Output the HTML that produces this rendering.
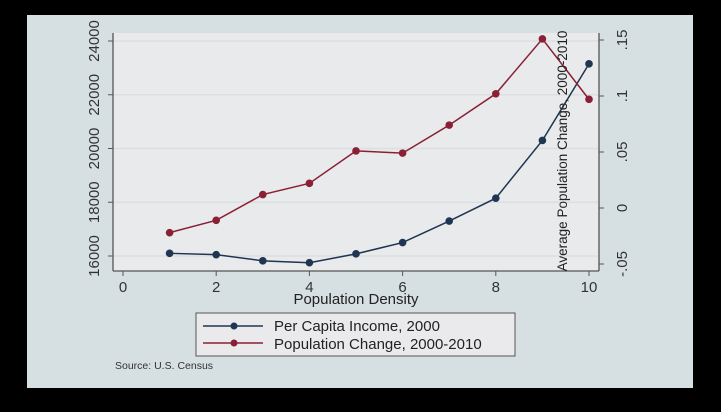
<!DOCTYPE html>
<html><head><meta charset="utf-8"><style>
body{margin:0;background:#000;width:721px;height:412px;overflow:hidden}
svg{display:block;font-family:"Liberation Sans",sans-serif}
</style></head><body>
<svg width="721" height="412">
<rect x="27" y="15" width="666" height="373" fill="#d6dfe1"/>
<rect x="113" y="33" width="486" height="238" fill="#e9eaeb"/>
<g id="grid"></g>
<g id="axes" stroke="#555" stroke-width="1.3" fill="none">
<line x1="113" y1="33" x2="113" y2="271"/><line x1="113" y1="271" x2="599" y2="271"/><line x1="599" y1="33" x2="599" y2="271"/>
</g>
<g id="ticks"></g>
<g id="series"></g>
<text x="356" y="304" font-size="15" text-anchor="middle" fill="#222">Population Density</text>
<text transform="translate(567,151) rotate(-90)" font-size="13.5" text-anchor="middle" fill="#222">Average Population Change, 2000-2010</text>
<g>
<rect x="196" y="313" width="319" height="43" fill="#eaeaec" stroke="#555" stroke-width="1"/>
<line x1="203" y1="326" x2="263" y2="326" stroke="#1f3552" stroke-width="1.5"/><circle cx="234" cy="326" r="3.5" fill="#1f3552"/>
<text x="274" y="331" font-size="15" fill="#222">Per Capita Income, 2000</text>
<line x1="203" y1="343" x2="263" y2="343" stroke="#8a2035" stroke-width="1.5"/><circle cx="234" cy="343" r="3.5" fill="#8a2035"/>
<text x="274" y="349" font-size="15" fill="#222">Population Change, 2000-2010</text>
</g>
<text x="115" y="369" font-size="10.5" fill="#333">Source: U.S. Census</text>
</svg>
<script>
const categories=[1,2,3,4,5,6,7,8,9,10];
const incomeValues=[16100,16050,15820,15750,16080,16500,17300,18150,20300,23150];
const popChangeValues=[-0.022,-0.011,0.012,0.022,0.051,0.049,0.074,0.102,0.151,0.097];
const xTicks=[0,2,4,6,8,10];
const leftTicks=[16000,18000,20000,22000,24000];
const rightTicks=[-0.05,0,0.05,0.1,0.15];
const rightTickLabels=["-.05","0",".05",".1",".15"];
const NS="http://www.w3.org/2000/svg";
const xs=v=>123+v*46.6;
const yl=v=>256-(v-16000)*(215/8000);
const yr=v=>208-v*1120;
function mk(tag,attrs,parent){const e=document.createElementNS(NS,tag);for(const k in attrs)e.setAttribute(k,attrs[k]);document.getElementById(parent).appendChild(e);return e;}
leftTicks.forEach(v=>{
 const g=mk('line',{x1:114,x2:598,y1:yl(v),y2:yl(v),stroke:'#dcdedf','stroke-width':1.5},'grid');
 
 
 const t=mk('line',{x1:108,x2:113,y1:yl(v),y2:yl(v),stroke:'#555'},'ticks');
 
 
 const l=mk('text',{transform:`translate(99,${yl(v)}) rotate(-90)`,'font-size':15,'text-anchor':'middle',fill:'#333'},'ticks');
 l.textContent=v;
 
 
});
rightTicks.forEach((v,i)=>{
 const t=mk('line',{x1:599,x2:604,y1:yr(v),y2:yr(v),stroke:'#555'},'ticks');
 
 
 const l=mk('text',{transform:`translate(627,${yr(v)}) rotate(-90)`,'font-size':15,'text-anchor':'middle',fill:'#333'},'ticks');
 l.textContent=rightTickLabels[i];
 
 
});
xTicks.forEach(v=>{
 const t=mk('line',{x1:xs(v),x2:xs(v),y1:271,y2:276,stroke:'#555'},'ticks');
 
 
 const l=mk('text',{x:xs(v),y:292,'font-size':15,'text-anchor':'middle',fill:'#333'},'ticks');
 l.textContent=v;
 
 
});
function series(vals,yf,color,name){
 const p=mk('polyline',{points:vals.map((v,i)=>xs(categories[i])+','+yf(v)).join(' '),fill:'none',stroke:color,'stroke-width':1.5},'series');
 
 
 vals.forEach((v,i)=>{
  const c=mk('circle',{cx:xs(categories[i]),cy:yf(v),r:3.8,fill:color},'series');
  
  
 });
}
series(incomeValues,yl,'#1f3552','income');
series(popChangeValues,yr,'#8a2035','pop-change');
</script>
</body></html>
